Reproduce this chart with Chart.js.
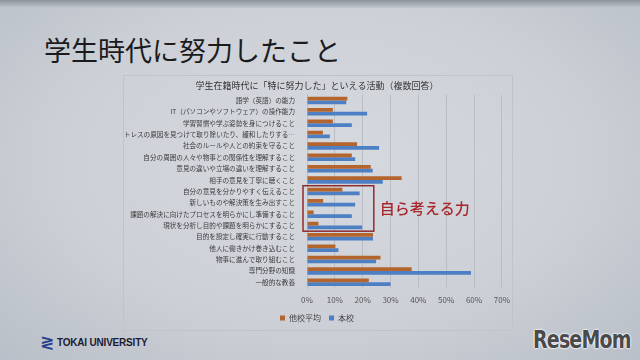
<!DOCTYPE html>
<html lang="ja">
<head>
<meta charset="utf-8">
<script src="https://cdn.jsdelivr.net/npm/chart.js"></script>
<style>
  html, body { margin: 0; padding: 0; }
  body {
    width: 640px; height: 360px; overflow: hidden; position: relative;
    background: radial-gradient(ellipse at 50% 45%, #d6d9de 0%, #cdd1d7 55%, #b9bfc8 100%);
    font-family: 'Noto Sans CJK JP', sans-serif;
  }
  .topband { position: absolute; left: 0; top: 0; width: 640px; height: 8px;
    background: linear-gradient(#8d939c, #c3c7cd); }
  h1 { position: absolute; left: 44px; top: 30px; margin: 0;
    font-size: 27px; font-weight: 400; color: #1b1b1d; letter-spacing: 0px; }
  .box { position: absolute; left: 123px; top: 75px; width: 390px; height: 256px;
    border: 1px solid #bfc3ca; box-sizing: border-box; }
  #chart { position: absolute; left: 124px; top: 76px; display: block; }
  .tokai { position: absolute; left: 40px; top: 332px; height: 20px; }
  .tokai .mark { position: absolute; left: 0; top: 0; width: 14px; height: 20px;
    font: 700 17px 'DejaVu Sans', sans-serif; color: #2b3f8f; line-height: 20px; }
  .tokai .name { position: absolute; left: 17px; top: 5px; white-space: nowrap;
    font: 700 10px 'Liberation Sans', sans-serif; color: #1c2035; letter-spacing: -0.2px; }
  .rese { position: absolute; left: 533px; top: 326px; white-space: nowrap;
    font: 700 24px 'DejaVu Sans', sans-serif; color: #4a4a4a; letter-spacing: -1px;
    transform: scaleX(0.79); transform-origin: left top;
    text-shadow: 0 0 2px #fff, 0 0 2px #fff, 0 0 2px #fff; }
</style>
</head>
<body>
<div class="topband"></div>
<h1>学生時代に努力したこと</h1>
<div class="box"></div>
<canvas id="chart" width="393" height="256"></canvas>
<div class="tokai"><div class="mark">≷</div><div class="name">TOKAI UNIVERSITY</div></div>
<div class="rese">ReseMom</div>
<script>
const chartTitle = '学生在籍時代に「特に努力した」といえる活動（複数回答）';
const categories = [
  '語学（英語）の能力',
  'IT（パソコンやソフトウェア）の操作能力',
  '学習習慣や学ぶ姿勢を身につけること',
  'ストレスの原因を見つけて取り除いたり、緩和したりする…',
  '社会のルールや人との約束を守ること',
  '自分の周囲の人々や物事との関係性を理解すること',
  '意見の違いや立場の違いを理解すること',
  '相手の意見を丁寧に聴くこと',
  '自分の意見を分かりやすく伝えること',
  '新しいものや解決策を生み出すこと',
  '課題の解決に向けたプロセスを明らかにし準備すること',
  '現状を分析し目的や課題を明らかにすること',
  '目的を設定し確実に行動すること',
  '他人に働きかけ巻き込むこと',
  '物事に進んで取り組むこと',
  '専門分野の知識',
  '一般的な教養'
];
const seriesNames = ['他校平均', '本校'];
const otherSchools = [14.5, 9.3, 9.3, 5.7, 18.0, 16.1, 22.9, 34.0, 12.7, 5.8, 2.4, 4.1, 23.7, 10.2, 26.4, 37.6, 22.2];
const ourSchool =    [14.1, 21.6, 16.1, 8.2, 25.9, 17.3, 23.6, 27.2, 18.9, 17.3, 16.1, 19.8, 23.7, 11.3, 24.8, 58.9, 30.0];
const xTicks = [0, 10, 20, 30, 40, 50, 60, 70];
// highlighted group: first and last category index, right edge in %
const highlightFrom = 8;
const highlightTo = 11;
const highlightUpTo = 24;
const highlightLabel = '自ら考える力';

const FONT = "'Noto Sans CJK JP', sans-serif";

const highlightPlugin = {
  id: 'highlight',
  afterDatasetsDraw(chart) {
    const { ctx, scales: { x, y } } = chart;
    const half = (y.getPixelForValue(1) - y.getPixelForValue(0)) / 2;
    const top = y.getPixelForValue(highlightFrom) - half;
    const bottom = y.getPixelForValue(highlightTo) + half;
    const left = x.getPixelForValue(0) - 4;
    const right = x.getPixelForValue(highlightUpTo);
    ctx.save();
    ctx.strokeStyle = '#8e2b30';
    ctx.lineWidth = 1.5;
    ctx.strokeRect(left, top, right - left, bottom - top);
    ctx.fillStyle = '#a8262c';
    ctx.font = '500 15px ' + FONT;
    ctx.textBaseline = 'middle';
    ctx.fillText(highlightLabel, right + 6, (top + bottom) / 2);
    ctx.restore();
  }
};

new Chart(document.getElementById('chart'), {
  type: 'bar',
  data: {
    labels: categories,
    datasets: [
      { label: seriesNames[0], data: otherSchools, backgroundColor: '#b4652d' },
      { label: seriesNames[1], data: ourSchool, backgroundColor: '#4d7fc4' }
    ]
  },
  options: {
    indexAxis: 'y',
    responsive: false,
    animation: false,
    categoryPercentage: 0.66,
    barPercentage: 1,
    layout: { padding: { left: 1, right: 8, top: 0, bottom: 0 } },
    plugins: {
      title: {
        display: true, text: chartTitle, color: '#333',
        font: { family: FONT, size: 9, weight: 'normal' },
        padding: { top: 4, bottom: 4 }
      },
      legend: {
        position: 'bottom',
        labels: {
          color: '#444', boxWidth: 5, boxHeight: 5, padding: 8,
          font: { family: FONT, size: 8 }
        }
      },
      tooltip: { enabled: false }
    },
    scales: {
      x: {
        min: 0, max: 70,
        afterBuildTicks(scale) { scale.ticks = xTicks.map(v => ({ value: v })); },
        afterFit(scale) { scale.height = 18; },
        ticks: {
          color: '#555', font: { family: FONT, size: 8 }, padding: 7,
          callback: v => v + '%'
        },
        grid: { color: '#b9bec6', drawTicks: false },
        border: { display: false }
      },
      y: {
        afterFit(scale) { scale.width = 182; },
        ticks: {
          color: '#3a3a3a', font: { family: FONT, size: 6.6 }, padding: 4, autoSkip: false
        },
        grid: { display: false },
        border: { color: '#b9bec6' }
      }
    }
  },
  plugins: [highlightPlugin]
});
</script>
</body>
</html>
